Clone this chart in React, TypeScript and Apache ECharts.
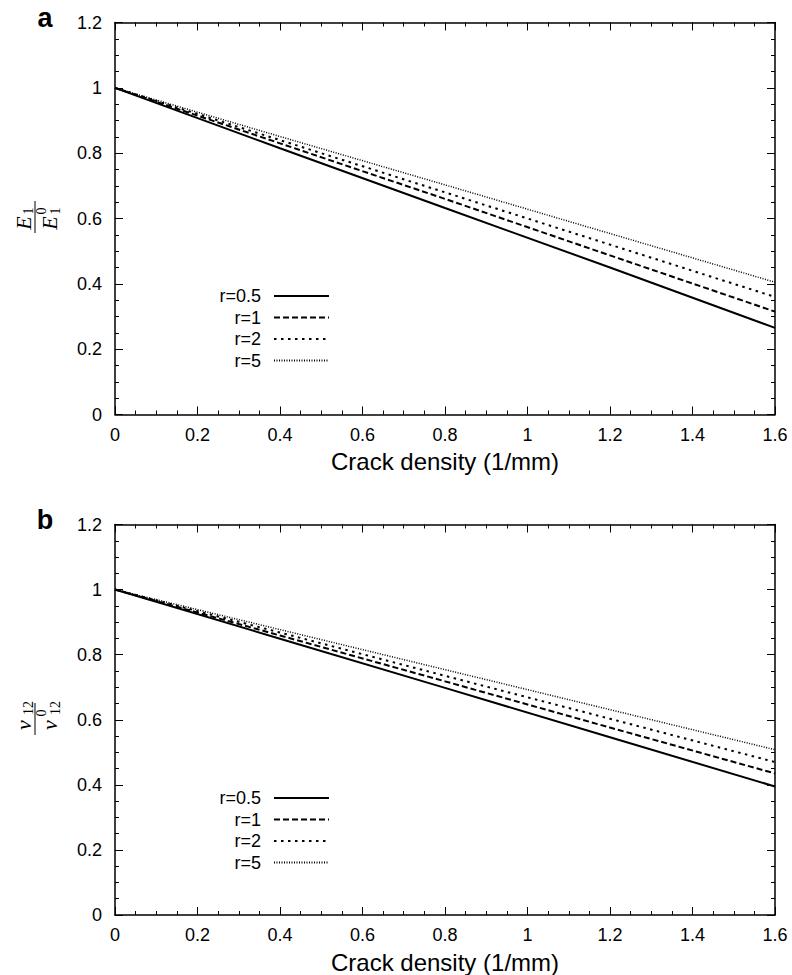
import React, { useEffect, useRef } from "react";
import * as echarts from "echarts";

// Crack density values (1/mm) at which curves were read
const crackDensity = [0, 0.4, 0.8, 1.2, 1.6];
const seriesNames = ["r=0.5", "r=1", "r=2", "r=5"];

// Panel a: E1 / E1^0
const eR05 = [1, 0.815, 0.632, 0.45, 0.265];
const eR1 = [1, 0.83, 0.66, 0.487, 0.315];
const eR2 = [1, 0.84, 0.68, 0.52, 0.36];
const eR5 = [1, 0.851, 0.703, 0.554, 0.405];

// Panel b: nu12 / nu12^0
const nR05 = [1, 0.849, 0.698, 0.546, 0.395];
const nR1 = [1, 0.859, 0.718, 0.576, 0.435];
const nR2 = [1, 0.868, 0.735, 0.603, 0.47];
const nR5 = [1, 0.877, 0.754, 0.631, 0.508];

const xTickLabels = ["0", "0.2", "0.4", "0.6", "0.8", "1", "1.2", "1.4", "1.6"];
const yTickLabels = ["0", "0.2", "0.4", "0.6", "0.8", "1", "1.2"];

const FONT = "Liberation Sans, Arial, sans-serif";
const SERIF = "Liberation Serif, Times New Roman, serif";

const lineStyles: any[] = [
  { color: "#000", width: 2, type: "solid" },
  { color: "#000", width: 2, type: [6, 3] },
  { color: "#000", width: 2, type: [2.5, 4.5] },
  { color: "#000", width: 1.5, type: [1, 1.5] },
];

const PANEL_TOP = [22.5, 524.5];
const PANEL_H = 392;
const LEFT = 115;
const RIGHT = 17;

function fmtTick(list: string[]) {
  return (v: number) => {
    const s = String(Math.round(v * 100) / 100);
    return list.includes(s) ? s : "";
  };
}

const axisBase = {
  axisLine: { show: true, onZero: false, lineStyle: { color: "#000", width: 1.5 } },
  axisTick: { show: true, inside: true, length: 8, lineStyle: { color: "#000", width: 1 } },
  minorTick: { show: true, splitNumber: 4, length: 4, lineStyle: { color: "#000", width: 1 } },
  splitLine: { show: false },
  minorSplitLine: { show: false },
};

function fraction(x: number, y: number, sym: string, sub: string, symSize: number): any {
  const subSize = 14;
  const subX = sub.length > 1 ? 12 : 7;
  const children: any[] = [
    {
      type: "text",
      x: -5,
      y: -12,
      style: { text: sym, font: `italic ${symSize}px ${SERIF}`, fill: "#000", align: "center", verticalAlign: "middle" },
    },
    {
      type: "text",
      x: subX,
      y: -7,
      style: { text: sub, font: `${subSize}px ${SERIF}`, fill: "#000", align: "center", verticalAlign: "middle" },
    },
    {
      type: "line",
      shape: { x1: -15, y1: 0, x2: 17, y2: 0 },
      style: { stroke: "#000", lineWidth: 1 },
    },
    {
      type: "text",
      x: -5,
      y: 14,
      style: { text: sym, font: `italic ${symSize}px ${SERIF}`, fill: "#000", align: "center", verticalAlign: "middle" },
    },
    {
      type: "text",
      x: subX,
      y: 20,
      style: { text: sub, font: `${subSize}px ${SERIF}`, fill: "#000", align: "center", verticalAlign: "middle" },
    },
    {
      type: "text",
      x: 7,
      y: 6,
      style: { text: "0", font: `${subSize}px ${SERIF}`, fill: "#000", align: "center", verticalAlign: "middle" },
    },
  ];
  return { type: "group", x, y, rotation: Math.PI / 2, children };
}

export default function App() {
  const ref = useRef<HTMLDivElement>(null);
  useEffect(() => {
    if (!ref.current) return;
    const chart = echarts.init(ref.current, null, { renderer: "svg" });

    const grids = PANEL_TOP.map((t) => ({ left: LEFT, right: RIGHT, top: t, height: PANEL_H }));

    const xAxes: any[] = [];
    const yAxes: any[] = [];
    [0, 1].forEach((g) => {
      xAxes.push({
        ...axisBase,
        type: "value",
        gridIndex: g,
        position: "bottom",
        min: 0,
        max: 1.6,
        interval: 0.2,
        name: "Crack density (1/mm)",
        nameLocation: "middle",
        nameGap: 35,
        nameTextStyle: { fontFamily: FONT, fontSize: 24, color: "#000" },
        axisLabel: { show: true, margin: 11, fontFamily: FONT, fontSize: 18, color: "#000", formatter: fmtTick(xTickLabels) },
      });
      xAxes.push({
        ...axisBase,
        type: "value",
        gridIndex: g,
        position: "top",
        min: 0,
        max: 1.6,
        interval: 0.2,
        axisLabel: { show: false },
      });
      yAxes.push({
        ...axisBase,
        type: "value",
        gridIndex: g,
        position: "left",
        min: 0,
        max: 1.2,
        interval: 0.2,
        axisLabel: { show: true, margin: 13, fontFamily: FONT, fontSize: 18, color: "#000", formatter: fmtTick(yTickLabels) },
      });
      yAxes.push({
        ...axisBase,
        type: "value",
        gridIndex: g,
        position: "right",
        min: 0,
        max: 1.2,
        interval: 0.2,
        axisLabel: { show: false },
      });
    });

    const panelData = [
      [eR05, eR1, eR2, eR5],
      [nR05, nR1, nR2, nR5],
    ];
    const series: any[] = [];
    panelData.forEach((arrs, g) => {
      arrs.forEach((vals, i) => {
        series.push({
          type: "line",
          name: seriesNames[i],
          xAxisIndex: g * 2,
          yAxisIndex: g * 2,
          data: crackDensity.map((x, k) => [x, vals[k]]),
          symbol: "none",
          showSymbol: false,
          lineStyle: lineStyles[i],
          itemStyle: { color: "#000" },
          silent: true,
        });
      });
    });

    const legends = [287, 789].map((top) => ({
      data: seriesNames,
      orient: "vertical",
      align: "right",
      right: 792 - 330,
      top,
      padding: 0,
      itemWidth: 55,
      itemHeight: 14,
      itemGap: 3.5,
      selectedMode: false,
      itemStyle: { opacity: 0 },
      textStyle: { fontFamily: FONT, fontSize: 18, color: "#000", lineHeight: 18, padding: [0, 8, 0, 0] },
    }));

    chart.setOption({
      animation: false,
      backgroundColor: "#fff",
      grid: grids,
      xAxis: xAxes,
      yAxis: yAxes,
      legend: legends,
      series,
      graphic: [
        { type: "text", x: 45, y: 17.5, style: { text: "a", font: `bold 27px ${FONT}`, fill: "#000", align: "center", verticalAlign: "middle" } },
        { type: "text", x: 45, y: 519.5, style: { text: "b", font: `bold 27px ${FONT}`, fill: "#000", align: "center", verticalAlign: "middle" } },
        fraction(35, 218, "E", "1", 22),
        fraction(35, 720, "ν", "12", 22),
      ],
    });
    return () => chart.dispose();
  }, []);
  return <div ref={ref} style={{ position: "fixed", left: 0, top: 0, width: 792, height: 975 }} />;
}
